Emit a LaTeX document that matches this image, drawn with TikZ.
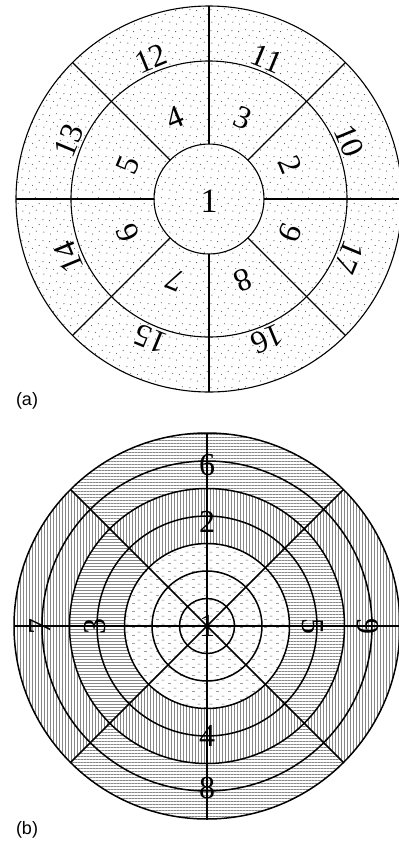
\documentclass[tikz,border=0pt]{standalone}
\usepackage{fontspec}
\setmainfont{Liberation Serif}
\newfontfamily\sansf{Liberation Sans}
\usetikzlibrary{patterns}

\pgfdeclarepatternformonly{sdots}{\pgfpointorigin}{\pgfqpoint{21pt}{21pt}}{\pgfqpoint{21pt}{21pt}}{%
  \pgfpathcircle{\pgfqpoint{2pt}{3pt}}{0.6pt}%
  \pgfpathcircle{\pgfqpoint{9pt}{1pt}}{0.6pt}%
  \pgfpathcircle{\pgfqpoint{16pt}{4pt}}{0.6pt}%
  \pgfpathcircle{\pgfqpoint{5pt}{9pt}}{0.6pt}%
  \pgfpathcircle{\pgfqpoint{12pt}{8pt}}{0.6pt}%
  \pgfpathcircle{\pgfqpoint{19pt}{11pt}}{0.6pt}%
  \pgfpathcircle{\pgfqpoint{1pt}{16pt}}{0.6pt}%
  \pgfpathcircle{\pgfqpoint{8pt}{15pt}}{0.6pt}%
  \pgfpathcircle{\pgfqpoint{15pt}{17pt}}{0.6pt}%
  \pgfusepath{fill}}

\pgfdeclarepatternformonly{hl}{\pgfpointorigin}{\pgfqpoint{3.3pt}{3.3pt}}{\pgfqpoint{3.3pt}{3.3pt}}{%
  \pgfpathrectangle{\pgfpointorigin}{\pgfqpoint{3.3pt}{0.8pt}}\pgfusepath{fill}}
\pgfdeclarepatternformonly{vl}{\pgfpointorigin}{\pgfqpoint{3.4pt}{3.4pt}}{\pgfqpoint{3.4pt}{3.4pt}}{%
  \pgfpathrectangle{\pgfpointorigin}{\pgfqpoint{0.8pt}{3.4pt}}\pgfusepath{fill}}
\pgfdeclarepatternformonly{dsh}{\pgfpointorigin}{\pgfqpoint{12pt}{8pt}}{\pgfqpoint{12pt}{8pt}}{%
  \pgfpathrectangle{\pgfqpoint{0pt}{0pt}}{\pgfqpoint{3pt}{0.7pt}}%
  \pgfpathrectangle{\pgfqpoint{6pt}{4pt}}{\pgfqpoint{3pt}{0.7pt}}%
  \pgfusepath{fill}}

\begin{document}
\begin{tikzpicture}[
  lab/.style={font=\fontsize{32}{35}\selectfont, inner sep=0pt},
  figcap/.style={font=\sansf\fontsize{18}{20}\selectfont, inner sep=0pt},
  thinline/.style={line width=1.1pt},
  thickline/.style={line width=1.5pt},
  dotfill/.style={pattern=sdots, pattern color=black!70},
  hfill/.style={pattern=hl, pattern color=black!72},
  vfill/.style={pattern=vl, pattern color=black!72},
  dfill/.style={pattern=dsh, pattern color=black!60}
]
\useasboundingbox (0pt,0pt) rectangle (399pt,-844pt);

% ---------------- (a) ----------------
\begin{scope}[shift={(209pt,-199pt)}]
  \fill[dotfill] (0pt,0pt) circle[radius=193pt];
  \draw[thinline] (0pt,0pt) circle[radius=193pt];
  \draw[thinline] (0pt,0pt) circle[radius=138pt];
  \draw[thinline] (0pt,0pt) circle[radius=55pt];
  \foreach \a in {0,45,...,315} {
    \draw[thinline] (\a:55pt) -- (\a:193pt);
  }
  \node[lab,font=\fontsize{34}{37}\selectfont] (a1) at (0pt,-2pt) {1};
  \foreach \n [count=\k from 0] in {2,...,9} {
    \pgfmathsetmacro\ang{22.5+45*\k}
    \node[lab,rotate=\ang-90] (am\n) at (\ang:88pt) {\n};
  }
  \foreach \n [count=\k from 0] in {10,...,17} {
    \pgfmathsetmacro\ang{22.5+45*\k}
    \node[lab,rotate=\ang-90] (ao\n) at (\ang:152pt) {\n};
  }
\end{scope}
\node[figcap] (capa) at (27pt,-401pt) {(a)};

% ---------------- (b) ----------------
\begin{scope}[shift={(207pt,-626pt)}]
  \fill[dfill] (0pt,0pt) circle[radius=82.5pt];
  % top and bottom sectors
  \foreach \s in {45,225} {
    \pgfmathsetmacro\e{\s+90}
    \fill[vfill] (\s:82.5pt) arc[start angle=\s,end angle=\e,radius=82.5pt]
      -- (\e:137.5pt) arc[start angle=\e,end angle=\s,radius=137.5pt] -- cycle;
    \fill[hfill] (\s:137.5pt) arc[start angle=\s,end angle=\e,radius=137.5pt]
      -- (\e:193pt) arc[start angle=\e,end angle=\s,radius=193pt] -- cycle;
  }
  % left and right sectors
  \foreach \s in {-45,135} {
    \pgfmathsetmacro\e{\s+90}
    \fill[hfill] (\s:82.5pt) arc[start angle=\s,end angle=\e,radius=82.5pt]
      -- (\e:137.5pt) arc[start angle=\e,end angle=\s,radius=137.5pt] -- cycle;
    \fill[vfill] (\s:137.5pt) arc[start angle=\s,end angle=\e,radius=137.5pt]
      -- (\e:193pt) arc[start angle=\e,end angle=\s,radius=193pt] -- cycle;
  }
  \foreach \r in {27.5,55,82.5,110,137.5,165,193} {
    \draw[thickline] (0pt,0pt) circle[radius=\r pt];
  }
  \foreach \a in {0,45,90,135} {
    \draw[thickline] (\a:193pt) -- (\a+180:193pt);
  }
  \node[lab] (b1) at (0pt,0pt) {1};
  \node[lab] (b6) at (90:161pt) {6};
  \node[lab] (b2) at (90:104pt) {2};
  \node[lab] (b4) at (270:110pt) {4};
  \node[lab] (b8) at (270:162pt) {8};
  \node[lab,rotate=90] (b7) at (180:167pt) {7};
  \node[lab,rotate=90] (b3) at (180:112pt) {3};
  \node[lab,rotate=-90] (b5) at (0:106pt) {5};
  \node[lab,rotate=-90] (b9) at (0:161pt) {9};
\end{scope}
\node[figcap] (capb) at (27pt,-830pt) {(b)};
\end{tikzpicture}
\end{document}
